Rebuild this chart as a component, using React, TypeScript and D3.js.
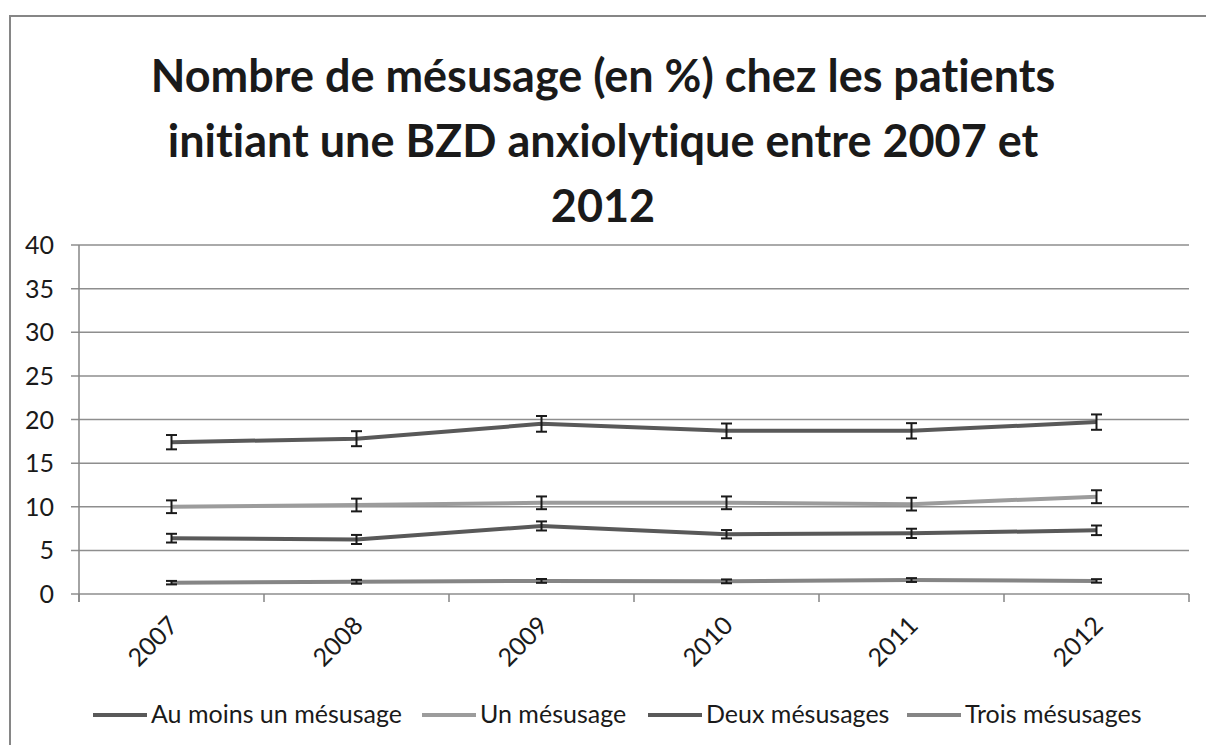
import * as d3 from 'd3';

const years = ['2007', '2008', '2009', '2010', '2011', '2012'];
const seriesNames = ['Au moins un mésusage', 'Un mésusage', 'Deux mésusages', 'Trois mésusages'];
const auMoinsUn = [17.4, 17.8, 19.5, 18.7, 18.7, 19.7];
const unMesusage = [10.0, 10.2, 10.45, 10.45, 10.3, 11.15];
const deuxMesusages = [6.4, 6.25, 7.8, 6.85, 6.95, 7.3];
const troisMesusages = [1.3, 1.4, 1.5, 1.45, 1.6, 1.5];
const errAuMoinsUn = [0.82, 0.86, 0.9, 0.84, 0.88, 0.88];
const errUn = [0.73, 0.73, 0.73, 0.73, 0.73, 0.74];
const errDeux = [0.5, 0.52, 0.52, 0.48, 0.53, 0.55];
const errTrois = [0.2, 0.22, 0.22, 0.22, 0.22, 0.2];
const yTicks = [0, 5, 10, 15, 20, 25, 30, 35, 40];
const titleLines = [
  'Nombre de mésusage (en %) chez les patients',
  'initiant une BZD anxiolytique entre 2007 et',
  '2012',
];

const seriesValues = [auMoinsUn, unMesusage, deuxMesusages, troisMesusages];
const seriesErrors = [errAuMoinsUn, errUn, errDeux, errTrois];
const seriesColors = ['#595959', '#9c9c9c', '#595959', '#858585'];

const W = 1206;
const H = 745;
const margin = { left: 79, right: 17, top: 245, bottom: 151 };
const font = 'Lato, "Open Sans", sans-serif';

export default function App() {
  const x = d3
    .scaleBand()
    .domain(years)
    .range([margin.left, W - margin.right]);
  const y = d3
    .scaleLinear()
    .domain([0, 40])
    .range([H - margin.bottom, margin.top]);

  const cx = (i: number) => (x(years[i]) || 0) + x.bandwidth() / 2;

  const line = d3
    .line<number>()
    .x((_, i) => cx(i))
    .y(d => y(d));

  const tickXs = [...years.map(yr => x(yr) || 0), W - margin.right];

  // legend layout
  const legendStarts = [93, 422, 648, 907];

  return (
    <svg
      width={W}
      height={H}
      style={{ position: 'absolute', left: 0, top: 0, background: '#fff', fontVariantLigatures: 'none' }}
      fontFamily={font}
    >
      <rect x={10} y={16} width={1220} height={760} fill="#fff" stroke="#868686" strokeWidth={2} />

      {titleLines.map((t, i) => (
        <text
          key={i}
          x={603}
          y={92 + i * 65}
          textAnchor="middle"
          fontWeight="bold"
          fontSize={45}
          fill="#1a1a1a"
        >
          {t}
        </text>
      ))}

      {/* gridlines */}
      {yTicks.map(t => (
        <g key={t}>
          <line
            x1={margin.left - 8}
            x2={W - margin.right}
            y1={y(t)}
            y2={y(t)}
            stroke="#8e8e8e"
            strokeWidth={1.5}
          />
          <text x={54} y={y(t)} dy="0.36em" textAnchor="end" fontSize={25} fill="#1a1a1a">
            {t}
          </text>
        </g>
      ))}

      {/* axes */}
      <line x1={margin.left} x2={margin.left} y1={y(40)} y2={y(0) + 8} stroke="#868686" strokeWidth={1.5} />
      {tickXs.map((tx, i) => (
        <line key={i} x1={tx} x2={tx} y1={y(0)} y2={y(0) + 8} stroke="#868686" strokeWidth={1.5} />
      ))}
      {years.map((yr, i) => (
        <text
          key={yr}
          transform={`translate(${cx(i) + 8},${y(0) + 33}) rotate(-45)`}
          textAnchor="end"
          fontSize={25}
          fill="#1a1a1a"
        >
          {yr}
        </text>
      ))}

      {/* series lines */}
      {seriesValues.map((vals, s) => (
        <path key={s} d={line(vals) || ''} fill="none" stroke={seriesColors[s]} strokeWidth={4} />
      ))}

      {/* error bars */}
      {seriesValues.map((vals, s) =>
        vals.map((v, i) => {
          const e = seriesErrors[s][i];
          const px = cx(i);
          return (
            <g key={`${s}-${i}`} stroke="#1a1a1a" strokeWidth={2}>
              <line x1={px} x2={px} y1={y(v - e)} y2={y(v + e)} />
              <line x1={px - 5.5} x2={px + 5.5} y1={y(v - e)} y2={y(v - e)} />
              <line x1={px - 5.5} x2={px + 5.5} y1={y(v + e)} y2={y(v + e)} />
            </g>
          );
        })
      )}

      {/* legend */}
      {seriesNames.map((name, s) => (
        <g key={name}>
          <line
            x1={legendStarts[s]}
            x2={legendStarts[s] + 54}
            y1={715}
            y2={715}
            stroke={seriesColors[s]}
            strokeWidth={4}
          />
          <text x={legendStarts[s] + 58} y={723} fontSize={25} fill="#1a1a1a">
            {name}
          </text>
        </g>
      ))}
    </svg>
  );
}
